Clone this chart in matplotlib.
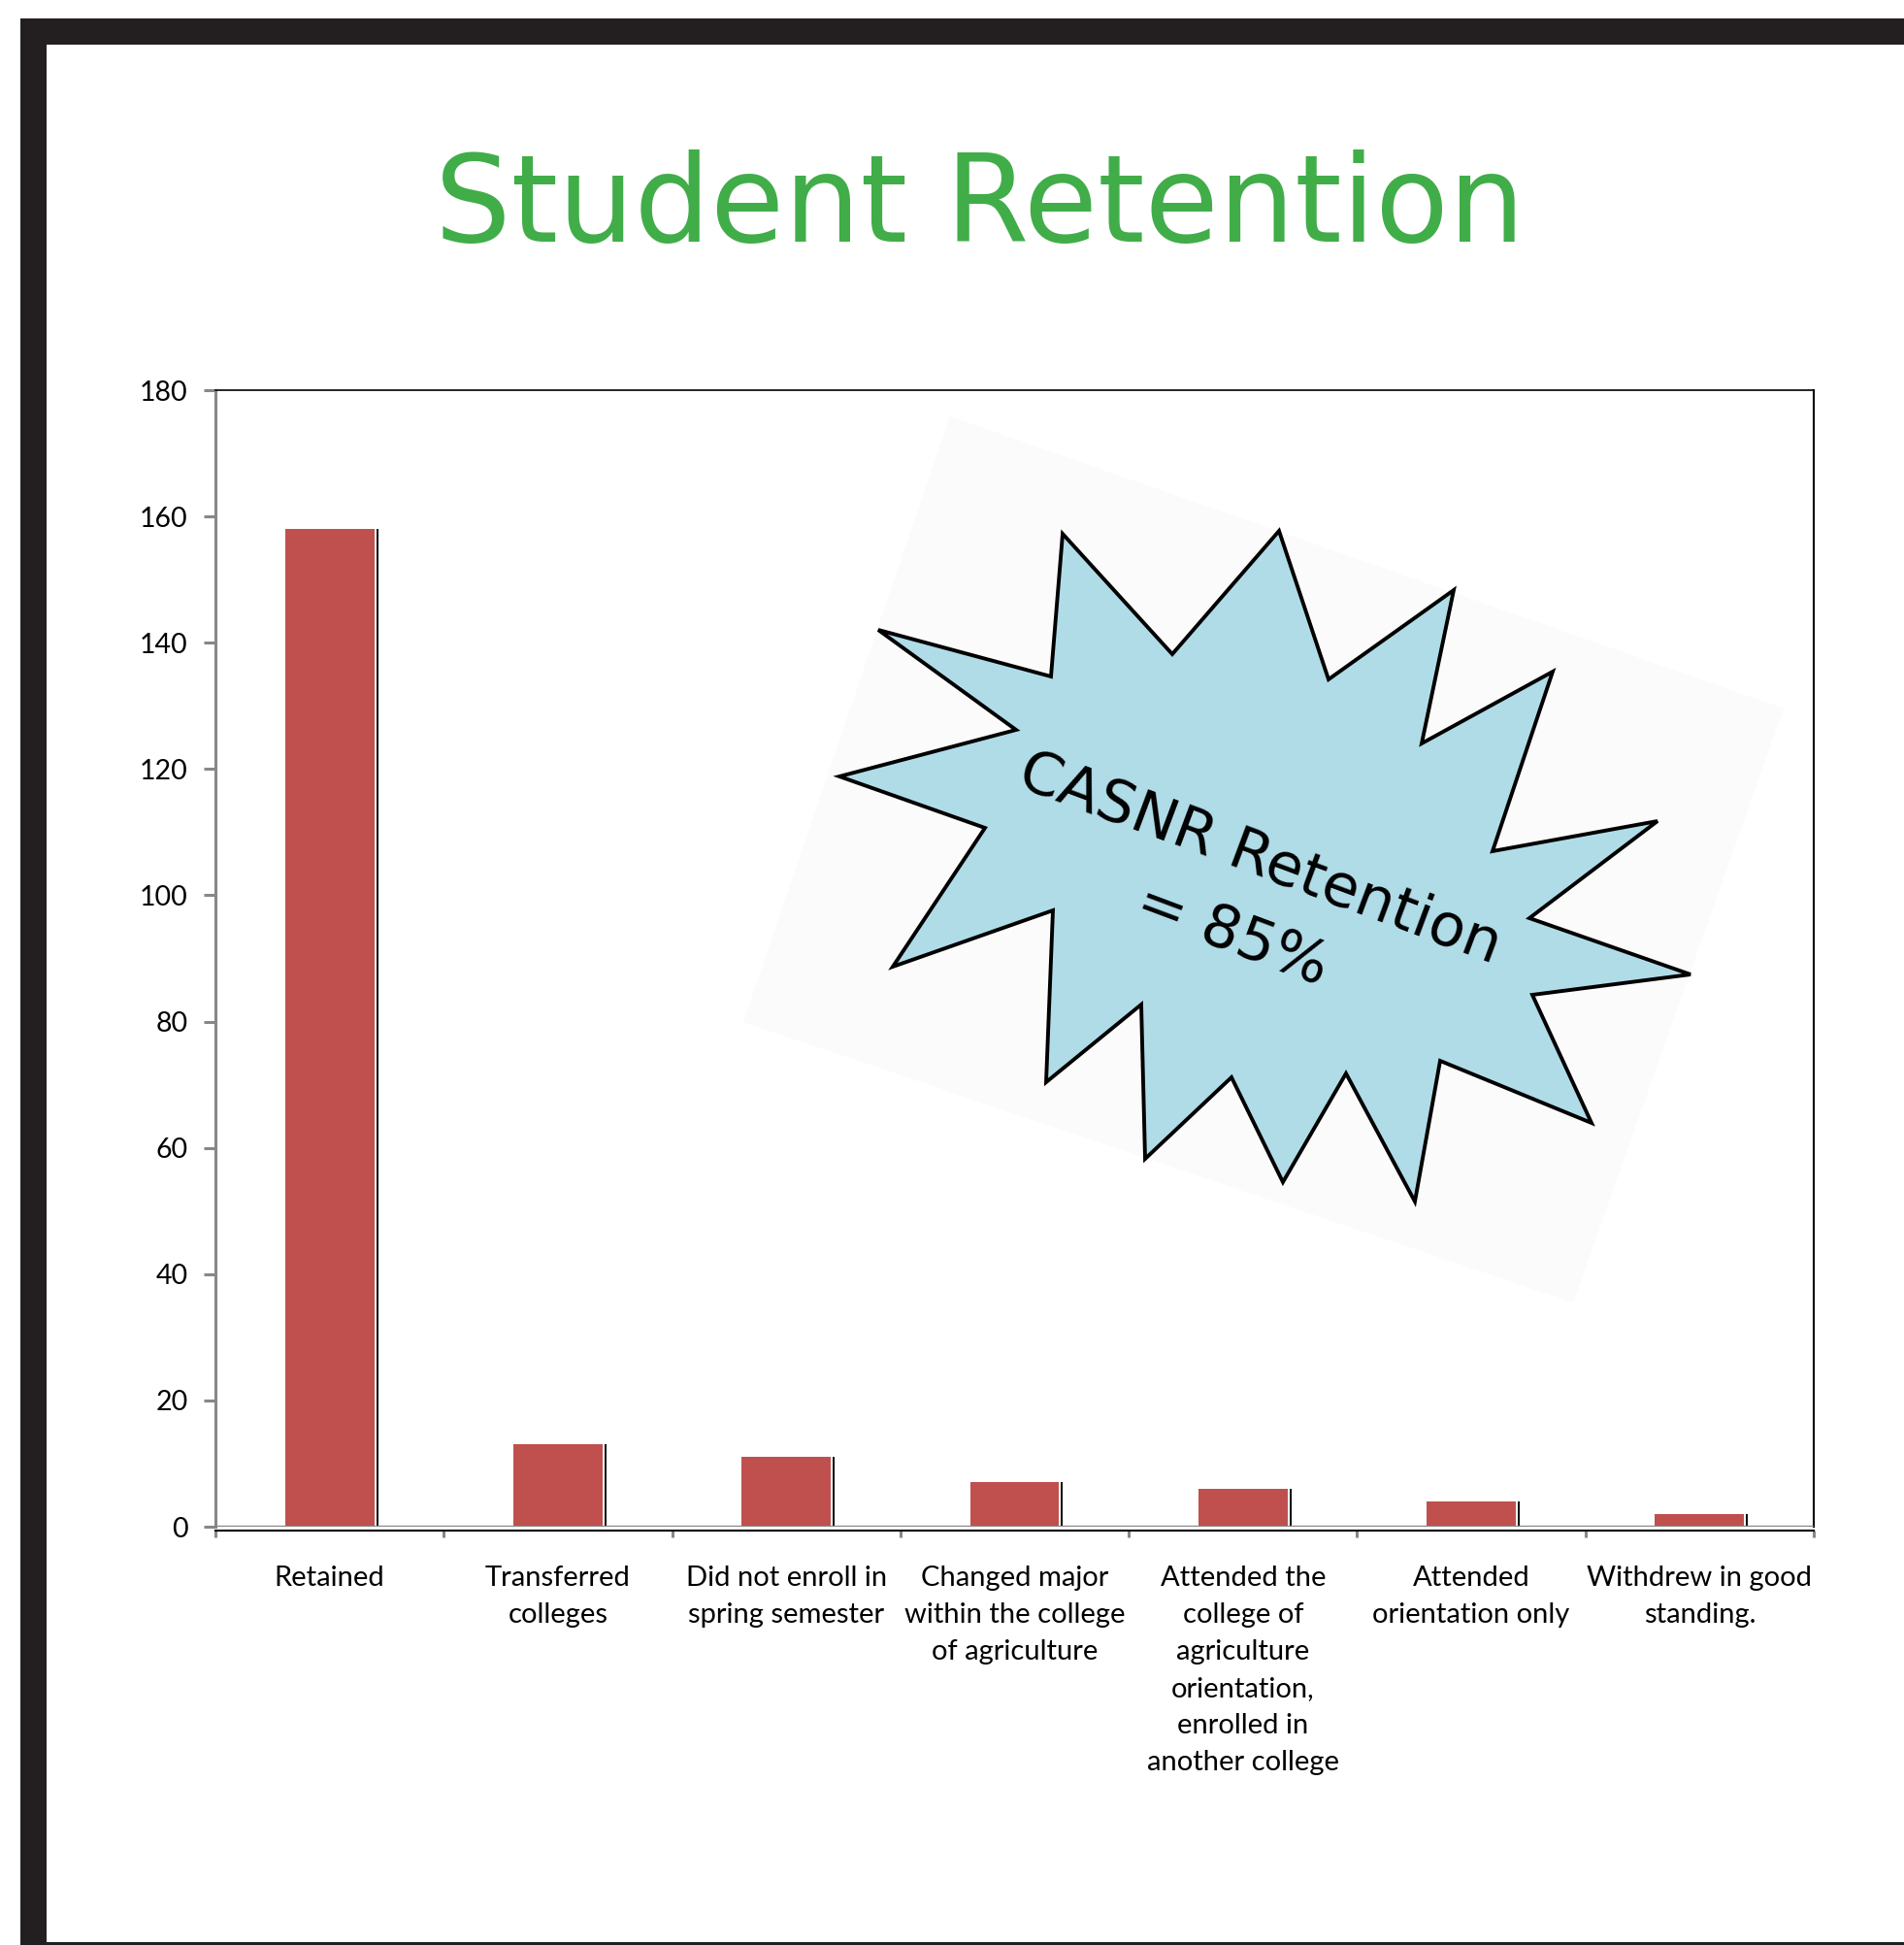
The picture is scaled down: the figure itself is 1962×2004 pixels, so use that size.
import matplotlib
matplotlib.use("Agg")
import matplotlib.pyplot as plt
from matplotlib.patches import Polygon, Rectangle

W, H = 1962, 2004

categories = [
    "Retained",
    "Transferred\ncolleges",
    "Did not enroll in\nspring semester",
    "Changed major\nwithin the college\nof agriculture",
    "Attended the\ncollege of\nagriculture\norientation,\nenrolled in\nanother college",
    "Attended\norientation only",
    "Withdrew in good\nstanding.",
]
counts = [158, 13, 11, 7, 6, 4, 2]
y_ticks = list(range(0, 181, 20))

TITLE = "Student Retention"
CALLOUT = ["CASNR Retention", "= 85%"]

BAR_RED = "#C0504D"
AXIS_GRAY = "#878787"
FRAME = "#231F20"
GREEN = "#41AD49"
STAR_BLUE = "#B0DCE8"

# callout shape, in pixels of the full picture (y down)
STAR_PTS = [
    (865, 800), (1047, 752), (905, 649), (1083, 697), (1095, 550), (1208, 674),
    (1318, 547), (1369, 700), (1498, 608), (1465, 766), (1600, 692), (1538, 877),
    (1708, 846), (1576, 946), (1742, 1004), (1579, 1025), (1640, 1157), (1484, 1093),
    (1458, 1238), (1387, 1106), (1322, 1218), (1269, 1110), (1180, 1194), (1176, 1035),
    (1078, 1115), (1085, 938), (920, 996), (1015, 853),
]
STAR_BG = [(979, 429), (1838, 730), (1621, 1342), (766, 1053)]

fig = plt.figure(figsize=(W / 100, H / 100), dpi=100)
fig.patch.set_facecolor("white")

# plot area
left, right, top, bottom = 222, 1869, 402, 1573
ax = fig.add_axes([left / W, 1 - bottom / H, (right - left) / W, (bottom - top) / H])
x = list(range(len(categories)))
bar_w = 0.39
ax.bar(x, counts, width=bar_w, color=BAR_RED, edgecolor="none", zorder=2)
# thin dark shadow line on the right side of each bar
ax.vlines([i + bar_w / 2 + 0.013 for i in x], 0, counts, color="black", lw=1.4, zorder=2)
ax.axhline(0, color=AXIS_GRAY, lw=2.4, zorder=3)

ax.set_xlim(-0.5, len(categories) - 0.5)
ax.set_ylim(0, 180)
ax.tick_params(axis="y", direction="out", length=8.5, width=2.2, color=AXIS_GRAY, pad=12)
ax.set_yticks(y_ticks)
ax.set_yticklabels([str(v) for v in y_ticks], fontsize=20.5, family="Lato")

# category boundaries get the tick marks, names sit under the bar centres
ax.tick_params(axis="x", direction="out", length=5, width=2.2, color=AXIS_GRAY)
ax.set_xticks([i - 0.5 for i in range(len(categories) + 1)])
ax.set_xticklabels([])
label_y = -40 / (bottom - top)
for i, name in zip(x, categories):
    ax.text(i, label_y, name, transform=ax.get_xaxis_transform(), ha="center", va="top",
            fontsize=21, family="Lato", linespacing=1.57, color="black")

ax.spines["left"].set_color(AXIS_GRAY)
ax.spines["left"].set_linewidth(2.2)
ax.spines["top"].set_color("black")
ax.spines["top"].set_linewidth(1.2)
ax.spines["right"].set_color("black")
ax.spines["right"].set_linewidth(1.5)
ax.spines["bottom"].set_color("black")
ax.spines["bottom"].set_linewidth(1.5)
ax.spines["bottom"].set_position(("outward", 3))

# overlay in pixel coordinates for frame, title and callout
ov = fig.add_axes([0, 0, 1, 1], zorder=5)
ov.set_xlim(0, W)
ov.set_ylim(H, 0)
ov.axis("off")
ov.patch.set_alpha(0)

ov.add_patch(Rectangle((21, 19), W - 21, 27, color=FRAME, lw=0))
ov.add_patch(Rectangle((21, 19), 27, H - 19, color=FRAME, lw=0))
ov.add_patch(Rectangle((21, 2001), W - 21, 3, color=FRAME, lw=0))

ov.text(1010, 249, TITLE, ha="center", va="baseline", fontsize=89,
        family="DejaVu Sans", color=GREEN)

ov.add_patch(Polygon(STAR_BG, closed=True, facecolor="#FBFBFB", edgecolor="none"))
ov.add_patch(Polygon(STAR_PTS, closed=True, facecolor=STAR_BLUE, edgecolor="black",
                     lw=2.8, joinstyle="miter"))
ov.text(1298, 886, CALLOUT[0], ha="center", va="center", rotation=-20.5,
        rotation_mode="anchor", fontsize=44, family="DejaVu Sans", color="black")
ov.text(1270, 964, CALLOUT[1], ha="center", va="center", rotation=-20.5,
        rotation_mode="anchor", fontsize=44, family="DejaVu Sans", color="black")

fig.savefig("out.png", dpi=100)
